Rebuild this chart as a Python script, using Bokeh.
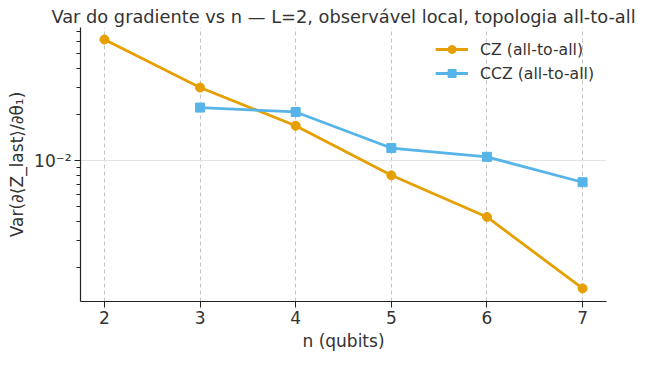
from bokeh.plotting import figure
from bokeh.models import FixedTicker, Range1d, Legend
from bokeh.embed import file_html
from bokeh.resources import INLINE

# Data
n_cz = [2, 3, 4, 5, 6, 7]
var_cz = [0.0617, 0.0300, 0.0169, 0.00803, 0.00430, 0.00147]
n_ccz = [3, 4, 5, 6, 7]
var_ccz = [0.0222, 0.0208, 0.0121, 0.0106, 0.00724]
x_ticks = [2, 3, 4, 5, 6, 7]
y_major = [0.01]
y_major_labels = {0.01: "10⁻²"}
y_minor = [0.002, 0.003, 0.004, 0.005, 0.006, 0.007, 0.008, 0.009,
           0.02, 0.03, 0.04, 0.05, 0.06, 0.07]

FONT = "DejaVu Sans"
TXT = "#333333"
ORANGE = "#E69F00"
BLUE = "#56B4E9"

p = figure(width=641, height=353, y_axis_type="log",
           x_range=Range1d(1.75, 7.25), y_range=Range1d(0.001208, 0.0739),
           output_backend="svg", toolbar_location=None,
           min_border_left=80, min_border_right=35,
           min_border_top=27, min_border_bottom=50,
           title="Var do gradiente vs n — L=2, observável local, topologia all-to-all")
p.outline_line_color = None
p.background_fill_color = "white"
p.border_fill_color = "white"

p.title.text_font = FONT
p.title.text_font_size = "17.8px"
p.title.text_font_style = "normal"
p.title.text_color = TXT
p.title.align = "center"
p.title.standoff = 2
p.title.offset = 0

for ax in (p.xaxis[0], p.yaxis[0]):
    ax.axis_line_color = "#222222"
    ax.axis_line_width = 1.2
    ax.major_tick_line_color = "#222222"
    ax.minor_tick_line_color = "#222222"
    ax.major_tick_in = 0
    ax.major_tick_out = 6
    ax.minor_tick_in = 0
    ax.minor_tick_out = 4
    ax.major_label_text_font = FONT
    ax.major_label_text_font_size = "17px"
    ax.major_label_text_color = TXT
    ax.axis_label_text_font = FONT
    ax.axis_label_text_font_size = "17px"
    ax.axis_label_text_font_style = "normal"
    ax.axis_label_text_color = TXT
    ax.major_label_standoff = 3
    ax.axis_label_standoff = 4

p.xaxis.ticker = FixedTicker(ticks=x_ticks)
p.xaxis.minor_tick_out = 0
p.xaxis.axis_label = "n (qubits)"
p.yaxis.ticker = FixedTicker(ticks=y_major, minor_ticks=y_minor)
p.yaxis.major_label_overrides = y_major_labels
p.yaxis.axis_label = "Var(∂⟨Z_last⟩/∂θ₁)"

p.xgrid.ticker = FixedTicker(ticks=x_ticks)
p.xgrid.grid_line_color = "#c4c4c4"
p.xgrid.grid_line_dash = "4 3"
p.xgrid.grid_line_width = 1
p.ygrid.ticker = FixedTicker(ticks=y_major)
p.ygrid.grid_line_color = "#e3e3e3"
p.ygrid.grid_line_width = 1
p.ygrid.minor_grid_line_color = None

l1 = p.line(n_cz, var_cz, color=ORANGE, line_width=2.8)
s1 = p.scatter(n_cz, var_cz, marker="circle", size=9, color=ORANGE)
l2 = p.line(n_ccz, var_ccz, color=BLUE, line_width=2.8)
s2 = p.scatter(n_ccz, var_ccz, marker="square", size=9, color=BLUE)

legend = Legend(items=[("CZ (all-to-all)", [l1, s1]), ("CCZ (all-to-all)", [l2, s2])],
                location="top_right")
legend.border_line_color = None
legend.background_fill_alpha = 0
legend.label_text_font = FONT
legend.label_text_font_size = "15.7px"
legend.label_text_color = TXT
legend.glyph_width = 33
legend.glyph_height = 20
legend.label_standoff = 12
legend.spacing = 4
legend.padding = 6
legend.margin = 12
p.add_layout(legend)

open("out.html", "w").write(file_html(p, INLINE))
